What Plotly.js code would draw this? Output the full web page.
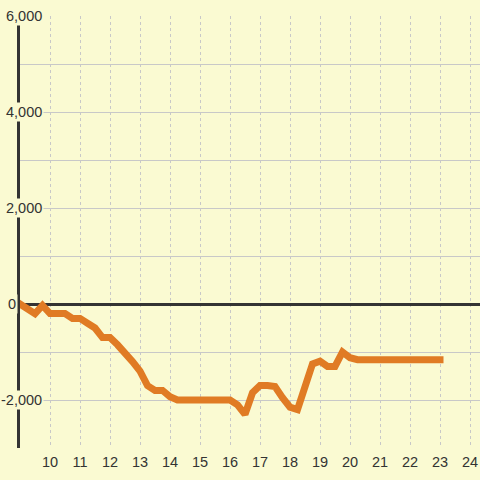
<!DOCTYPE html>
<html>
<head>
<meta charset="utf-8">
<script src="https://cdn.plot.ly/plotly-3.0.1.min.js"></script>
<style>
html,body{margin:0;padding:0;background:#fafad2;}
#chart{width:480px;height:480px;}
#chart path.js-line{stroke-linecap:square !important;stroke-linejoin:miter !important;}
</style>
</head>
<body>
<div id="chart"></div>
<script>
const hours = [9,9.25,9.5,9.75,10,10.25,10.5,10.75,11,11.25,11.5,11.75,12,12.25,12.5,12.75,13,13.25,13.5,13.75,14,14.25,14.5,14.75,15,15.25,15.5,15.75,16,16.25,16.5,16.75,17,17.25,17.5,17.75,18,18.25,18.5,18.75,19,19.25,19.5,19.75,20,20.25,20.5,20.75,21,21.25,21.5,21.75,22,22.25,22.5,22.75,23];
const values = [0,-100,-200,-30,-200,-200,-200,-300,-300,-400,-500,-700,-700,-850,-1000,-1200,-1400,-1700,-1800,-1800,-1930,-2000,-2000,-2000,-2000,-2000,-2000,-2000,-2000,-2100,-2300,-1850,-1700,-1700,-1720,-1950,-2150,-2200,-1700,-1250,-1190,-1300,-1300,-1000,-1120,-1160,-1160,-1160,-1160,-1160,-1160,-1160,-1160,-1160,-1160,-1160,-1160];
const xTicks = [10,11,12,13,14,15,16,17,18,19,20,21,22,23,24];
const yLabelVals = [6000,4000,2000,0,-2000];
const yLabelText = ['6,000','4,000','2,000','0','-2,000'];

const font = {family: 'Liberation Sans, Arial, sans-serif', size: 14.5, color: '#333333'};
const annotations = yLabelVals.map((v, i) => ({
  x: 0, xref: 'paper', y: v, yref: 'y',
  xanchor: 'right', yanchor: 'middle',
  xshift: v === 0 ? -2 : 24,
  text: yLabelText[i], showarrow: false,
  font: font, bgcolor: '#fafad2', borderpad: 1
}));

Plotly.newPlot('chart', [{
  x: hours, y: values, type: 'scatter', mode: 'lines',
  line: {color: '#e07b24', width: 7},
  hoverinfo: 'skip'
}], {
  width: 480, height: 480,
  margin: {l: 20, r: 0, t: 16, b: 32, pad: 0},
  paper_bgcolor: '#fafad2', plot_bgcolor: '#fafad2',
  showlegend: false,
  xaxis: {
    range: [9, 24.3333], tickmode: 'array', tickvals: xTicks, ticktext: xTicks.map(String),
    showgrid: true, gridcolor: '#c8c8c8', gridwidth: 1, griddash: 'dot',
    zeroline: false, showline: false, ticks: '', tickfont: font,
    ticklabelstandoff: 3, fixedrange: true
  },
  yaxis: {
    range: [-3000, 6000], dtick: 1000, tick0: 0,
    showgrid: true, gridcolor: '#c8c8c8', gridwidth: 1,
    zeroline: true, zerolinecolor: '#333333', zerolinewidth: 3,
    showline: true, linecolor: '#333333', linewidth: 3,
    showticklabels: false, ticks: '', fixedrange: true
  },
  annotations: annotations
}, {displayModeBar: false, staticPlot: true});
</script>
</body>
</html>
